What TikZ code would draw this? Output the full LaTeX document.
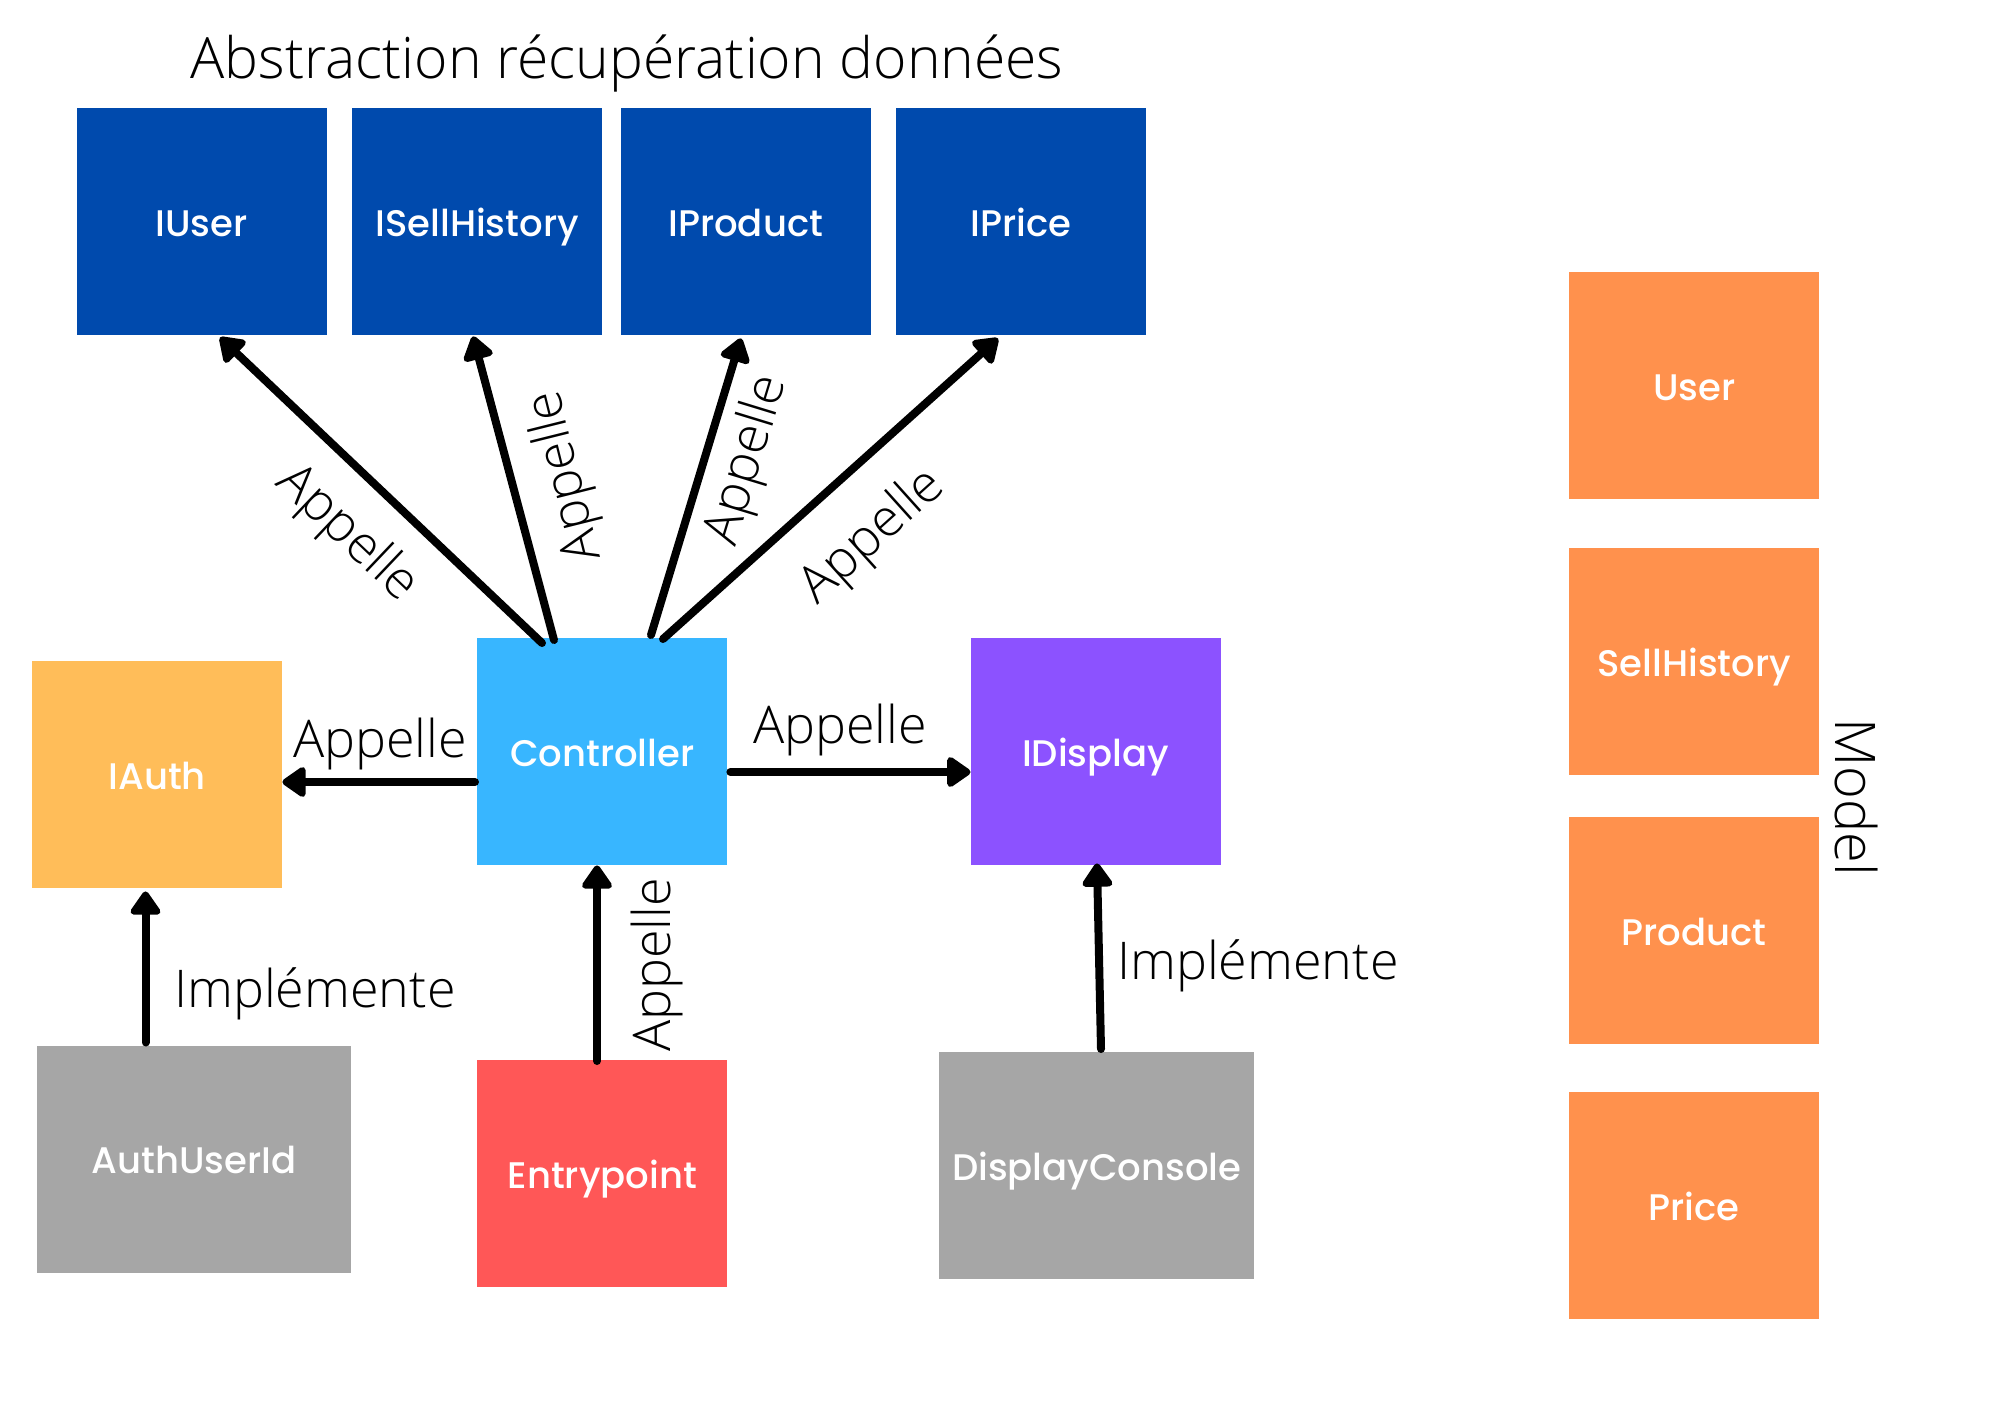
\documentclass[tikz,border=0pt]{standalone}
\usepackage{fontspec}
\IfFontExistsTF{Open Sans Light}{\setmainfont{Open Sans Light}}{\setmainfont{Open Sans}}
\IfFontExistsTF{Poppins Medium}{\newfontfamily\boxfont{Poppins Medium}}{\newfontfamily\boxfont{Poppins}}
\usetikzlibrary{arrows.meta,calc}
\definecolor{dblue}{HTML}{004AAD}
\definecolor{lblue}{HTML}{38B6FF}
\definecolor{purp}{HTML}{8C52FF}
\definecolor{yell}{HTML}{FFBD59}
\definecolor{redc}{HTML}{FF5757}
\definecolor{grayc}{HTML}{A6A6A6}
\definecolor{orng}{HTML}{FF914D}
\begin{document}
\begin{tikzpicture}[x=1pt,y=-1pt,
  box/.style={rectangle, inner sep=0pt, anchor=north west, minimum width=250pt, minimum height=227pt, text height=29pt, text depth=0pt, text=white, font=\boxfont\fontsize{37}{40}\selectfont},
  conn/.style={line width=8pt, line cap=round, -{Triangle[length=26pt,width=34pt,round]}},
  lbl/.style={font=\fontsize{52}{56}\selectfont, inner sep=0pt}
]
\fill[white] (0,0) rectangle (2000,1414);
\useasboundingbox (0,0) rectangle (2000,1414);

\node[font=\fontsize{57}{60}\selectfont, anchor=base, inner sep=0pt] (title) at (627,78) {Abstraction récupération données};

\node[box, fill=dblue] (iuser) at (76.5,108) {IUser};
\node[box, fill=dblue] (isell) at (352,108) {ISellHistory};
\node[box, fill=dblue] (iprod) at (620.5,108) {IProduct};
\node[box, fill=dblue] (iprice) at (896,108) {IPrice};

\node[box, fill=yell] (iauth) at (32,661) {IAuth};
\node[box, fill=lblue] (ctrl) at (477,638) {Controller};
\node[box, fill=purp] (idisp) at (970.5,638) {IDisplay};

\node[box, fill=grayc, minimum width=314pt] (authuid) at (37,1045.5) {AuthUserId};
\node[box, fill=redc] (entry) at (477,1060) {Entrypoint};
\node[box, fill=grayc, minimum width=315pt] (dispcons) at (939,1052) {DisplayConsole};

\node[box, fill=orng] (muser) at (1569,272) {User};
\node[box, fill=orng] (msell) at (1569,548) {SellHistory};
\node[box, fill=orng] (mprod) at (1569,817) {Product};
\node[box, fill=orng] (mprice) at (1569,1092) {Price};

\node[font=\fontsize{56}{60}\selectfont, rotate=-90, anchor=base, inner sep=0pt] (model) at (1835,797) {Model};

\draw[conn] ($(ctrl.north west)+(65,5)$) -- ($(iuser.south west)+(143.5,2)$);
\draw[conn] ($(ctrl.north west)+(77,2)$) -- ($(isell.south west)+(121,1)$);
\draw[conn] ($(ctrl.north west)+(174,-3)$) -- ($(iprod.south west)+(120.5,3)$);
\draw[conn] ($(ctrl.north west)+(186,1)$) -- ($(iprice.south west)+(102,3)$);
\draw[conn] ($(ctrl.north west)+(-2,144)$) -- ($(iauth.north east)+(0,121)$);
\draw[conn] ($(ctrl.north east)+(3,134)$) -- ($(idisp.north west)+(0,134)$);
\draw[conn] ($(authuid.north west)+(108.5,-3)$) -- ($(iauth.south west)+(113.5,3)$);
\draw[conn] ($(entry.north west)+(120,1)$) -- ($(ctrl.south west)+(120,0)$);
\draw[conn] ($(dispcons.north west)+(162,-3)$) -- ($(idisp.south west)+(126.5,-2)$);

\node[lbl, rotate=-43.5] (l1) at (347,534) {Appelle};
\node[lbl, rotate=104] (l2) at (566,476) {Appelle};
\node[lbl, rotate=73] (l3) at (748,460) {Appelle};
\node[lbl, rotate=42] (l4) at (873,537) {Appelle};
\node[lbl, anchor=base] (l5) at (380,757) {Appelle};
\node[lbl, anchor=base] (l6) at (840,743) {Appelle};
\node[lbl, anchor=base west] (l7) at (174,1007) {Implémente};
\node[lbl, rotate=90, anchor=base] (l8) at (670,965) {Appelle};
\node[lbl, anchor=base west] (l9) at (1117,979.5) {Implémente};
\end{tikzpicture}
\end{document}
